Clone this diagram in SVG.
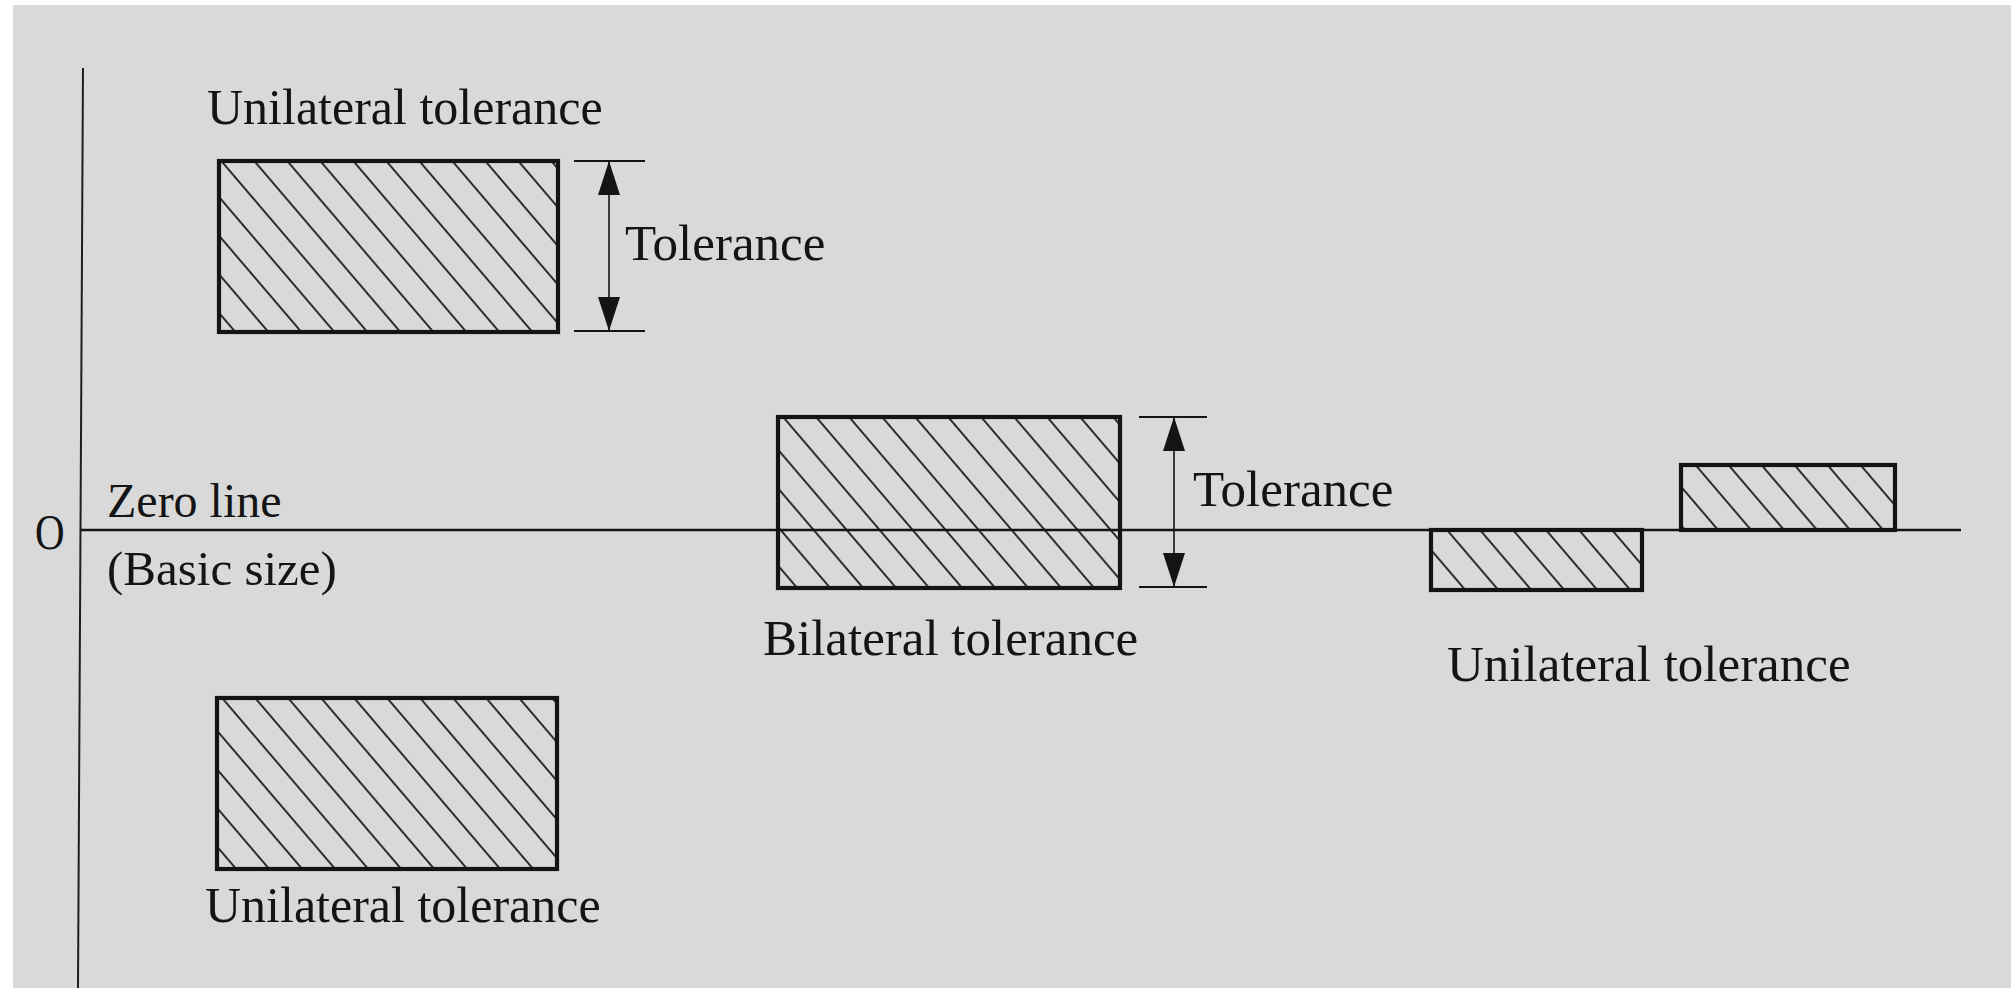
<svg xmlns="http://www.w3.org/2000/svg" width="2011" height="988" viewBox="0 0 2011 988">
<style>
  .lbl { font-family: "Liberation Serif", "Times New Roman", serif; font-size: 50px; fill: #141414; }
  .box { stroke: #141414; stroke-width: 4.2; }
  .hatch { stroke: #141414; stroke-width: 2.3; }
  .ext { stroke: #141414; stroke-width: 2; }
  .dim { stroke: #141414; stroke-width: 1.6; fill: none; }
  .axis { stroke: #1a1f24; stroke-width: 2; }
  .zero { stroke: #141414; stroke-width: 2.6; }
</style>
<defs>
  <pattern id="hTL" patternUnits="userSpaceOnUse" x="1.3" y="0" width="33" height="200" patternTransform="skewX(40.5)"><line class="hatch" x1="16.5" y1="-2" x2="16.5" y2="202"/></pattern>
  <pattern id="hBL" patternUnits="userSpaceOnUse" x="5.5" y="0" width="33" height="200" patternTransform="skewX(40.5)"><line class="hatch" x1="16.5" y1="-2" x2="16.5" y2="202"/></pattern>
  <pattern id="hMID" patternUnits="userSpaceOnUse" x="14.5" y="0" width="33" height="200" patternTransform="skewX(40.5)"><line class="hatch" x1="16.5" y1="-2" x2="16.5" y2="202"/></pattern>
  <pattern id="hR1" patternUnits="userSpaceOnUse" x="-12.1" y="0" width="33" height="200" patternTransform="skewX(40.5)"><line class="hatch" x1="16.5" y1="-2" x2="16.5" y2="202"/></pattern>
  <pattern id="hR2" patternUnits="userSpaceOnUse" x="-5.1" y="0" width="33" height="200" patternTransform="skewX(40.5)"><line class="hatch" x1="16.5" y1="-2" x2="16.5" y2="202"/></pattern>
  <marker id="ah" viewBox="0 0 34 22" refX="34" refY="11" markerWidth="34" markerHeight="22" markerUnits="userSpaceOnUse" orient="auto-start-reverse">
    <path d="M0,0 L34,11 L0,22 Z" fill="#141414"/>
  </marker>
</defs>
<rect x="0" y="0" width="2011" height="988" fill="#ffffff"/>
<rect x="13" y="5" width="1998" height="983" fill="#d9d9d9"/>

<g id="connectors">
  <line class="axis" x1="83" y1="68" x2="78" y2="988"/>
  <line class="zero" x1="81" y1="530" x2="1961" y2="530"/>
  <g id="dim-top">
    <line class="ext" x1="574" y1="161" x2="645" y2="161"/>
    <line class="ext" x1="574" y1="331" x2="645" y2="331"/>
    <line class="dim" x1="609" y1="161" x2="609" y2="331" marker-start="url(#ah)" marker-end="url(#ah)"/>
  </g>
  <g id="dim-mid">
    <line class="ext" x1="1139" y1="417" x2="1207" y2="417"/>
    <line class="ext" x1="1139" y1="587" x2="1207" y2="587"/>
    <line class="dim" x1="1174" y1="417" x2="1174" y2="587" marker-start="url(#ah)" marker-end="url(#ah)"/>
  </g>
</g>

<g id="axis-labels">
  <text class="lbl" transform="translate(35,549) scale(0.82,1)" x="0" y="0">O</text>
  <text class="lbl" x="107" y="517" style="font-size:48px">Zero line</text>
  <text class="lbl" x="107" y="585" style="font-size:49px">(Basic size)</text>
</g>

<g id="node-top-left">
  <rect x="219" y="161" width="339" height="171" fill="url(#hTL)" class="box"/>
  <text class="lbl" x="207" y="124">Unilateral tolerance</text>
  <text class="lbl" x="625" y="260" style="font-size:51px">Tolerance</text>
</g>

<g id="node-bottom-left">
  <rect x="217" y="698" width="340" height="171" fill="url(#hBL)" class="box"/>
  <text class="lbl" x="205" y="922">Unilateral tolerance</text>
</g>

<g id="node-bilateral">
  <rect x="778" y="417" width="342" height="171" fill="url(#hMID)" class="box"/>
  <text class="lbl" x="1193" y="506" style="font-size:51px">Tolerance</text>
  <text class="lbl" x="763" y="655" style="font-size:51px">Bilateral tolerance</text>
</g>

<g id="node-right-unilateral">
  <rect x="1431" y="530" width="211" height="60" fill="url(#hR1)" class="box"/>
  <rect x="1681" y="465" width="214" height="65" fill="url(#hR2)" class="box"/>
  <text class="lbl" x="1447" y="681" style="font-size:51px">Unilateral tolerance</text>
</g>
</svg>
